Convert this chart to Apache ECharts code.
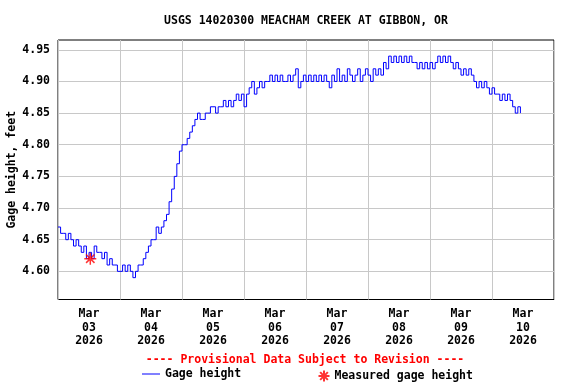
<!DOCTYPE html>
<html>
<head>
<meta charset="utf-8">
<script src="https://cdn.jsdelivr.net/npm/echarts@6/dist/echarts.min.js"></script>
<style>html,body{margin:0;padding:0;background:#fff}#c{width:576px;height:384px}</style>
</head>
<body>
<div id="c"></div>
<script>
// Title / labels
const titleText = 'USGS 14020300 MEACHAM CREEK AT GIBBON, OR';
const yAxisName = 'Gage height, feet';
const footerText = '---- Provisional Data Subject to Revision ----';
// X axis: hours since Mar 03 2026 00:00, one label per day (at noon)
const dayLabels = ['Mar\n03\n2026','Mar\n04\n2026','Mar\n05\n2026','Mar\n06\n2026','Mar\n07\n2026','Mar\n08\n2026','Mar\n09\n2026','Mar\n10\n2026'];
const dayLabelHours = [12,36,60,84,108,132,156,180];
const yTicks = [4.60,4.65,4.70,4.75,4.80,4.85,4.90,4.95];
// Gage height, hourly readings starting Mar 03 00:00 (feet)
const stepHours = 1;
const gageHeight = [
 4.67,4.66,4.66,4.65,4.66,4.65,4.64,4.65,4.64,4.63,
 4.64,4.62,4.63,4.62,4.64,4.63,4.63,4.62,4.63,4.61,
 4.62,4.61,4.61,4.60,4.60,4.61,4.60,4.61,4.60,4.59,
 4.60,4.61,4.61,4.62,4.63,4.64,4.65,4.65,4.67,4.66,
 4.67,4.68,4.69,4.71,4.73,4.75,4.77,4.79,4.80,4.80,
 4.81,4.82,4.83,4.84,4.85,4.84,4.84,4.85,4.85,4.86,
 4.86,4.85,4.86,4.86,4.87,4.86,4.87,4.86,4.87,4.88,
 4.87,4.88,4.86,4.88,4.89,4.90,4.88,4.89,4.90,4.89,
 4.90,4.90,4.91,4.90,4.91,4.90,4.91,4.90,4.90,4.91,
 4.90,4.91,4.92,4.89,4.90,4.91,4.90,4.91,4.90,4.91,
 4.90,4.91,4.90,4.91,4.90,4.89,4.91,4.90,4.92,4.90,
 4.91,4.90,4.92,4.91,4.90,4.91,4.92,4.90,4.91,4.92,
 4.91,4.90,4.92,4.91,4.92,4.91,4.93,4.92,4.94,4.93,
 4.94,4.93,4.94,4.93,4.94,4.93,4.94,4.93,4.93,4.92,
 4.93,4.92,4.93,4.92,4.93,4.92,4.93,4.94,4.93,4.94,
 4.93,4.94,4.93,4.92,4.93,4.92,4.91,4.92,4.91,4.92,
 4.91,4.90,4.89,4.90,4.89,4.90,4.89,4.88,4.89,4.88,
 4.88,4.87,4.88,4.87,4.88,4.87,4.86,4.85,4.86,4.85
];
// Measured gage height: [hours since Mar 03 00:00, feet]
const measuredHours = [12.5];
const measuredValues = [4.62];

const FONT = 'DejaVu Sans Mono';
const txt = {fontFamily: FONT, fontWeight: 'bold', fontSize: 11.5, color: '#000'};
const asterisk = 'path://M5,0 L5,10 M0,5 L10,5 M1.5,1.5 L8.5,8.5 M8.5,1.5 L1.5,8.5';

const chart = echarts.init(document.getElementById('c'), null, {renderer: 'canvas'});
chart.setOption({
  animation: false,
  backgroundColor: '#fff',
  title: {
    text: titleText, left: 306, top: 15.5, padding: 0, textAlign: 'center',
    textStyle: Object.assign({}, txt)
  },
  grid: {left: 58, top: 40, width: 496, height: 259.5, show: true, borderColor: '#000', borderWidth: 1, containLabel: false, outerBoundsMode: 'none'},
  xAxis: {
    type: 'value', min: 0, max: 192, interval: 24,
    axisLine: {show: false}, axisTick: {show: false},
    splitLine: {show: true, lineStyle: {color: '#c8c8c8', width: 1}},
    axisLabel: Object.assign({}, txt, {
      customValues: dayLabelHours, margin: 8, lineHeight: 13.5,
      formatter: v => dayLabels[dayLabelHours.indexOf(v)] || ''
    })
  },
  yAxis: {
    type: 'value', min: 4.5555, max: 4.9655,
    name: yAxisName, nameLocation: 'middle', nameGap: 40, nameMoveOverlap: false,
    nameTextStyle: Object.assign({}, txt),
    axisLine: {show: false},
    axisTick: {show: false, customValues: yTicks},
    splitLine: {show: true, lineStyle: {color: '#c8c8c8', width: 1}},
    axisLabel: Object.assign({}, txt, {customValues: yTicks, margin: 8, formatter: v => v.toFixed(2)})
  },
  legend: [
    {data: [{name: 'Gage height', icon: 'path://M0,0 L18,0 L18,1 L0,1 Z'}], left: 142, top: 368, padding: 0,
     itemWidth: 18, itemHeight: 14, itemStyle: {color: '#0000ff'}, textStyle: Object.assign({}, txt), selectedMode: false},
    {data: ['Measured gage height'], left: 316, top: 368, padding: 0,
     itemWidth: 11, itemHeight: 14, textStyle: Object.assign({}, txt), selectedMode: false}
  ],
  graphic: [{
    type: 'text', x: 305, y: 354,
    style: {text: footerText, fill: '#ff0000', font: 'bold 11.5px "' + FONT + '"', align: 'center', verticalAlign: 'top'}
  }],
  series: [
    {
      name: 'Gage height', type: 'line', step: 'end', showSymbol: false, symbol: 'none',
      lineStyle: {color: '#0000ff', width: 1}, itemStyle: {color: '#0000ff'},
      data: gageHeight.map((v, i) => [i * stepHours, v]), z: 3
    },
    {
      name: 'Measured gage height', type: 'scatter', symbol: asterisk, symbolSize: 12,
      itemStyle: {color: 'none', borderColor: '#ff0000', borderWidth: 1.5},
      data: measuredHours.map((h, i) => [h, measuredValues[i]]), z: 4
    }
  ]
});
</script>
</body>
</html>
